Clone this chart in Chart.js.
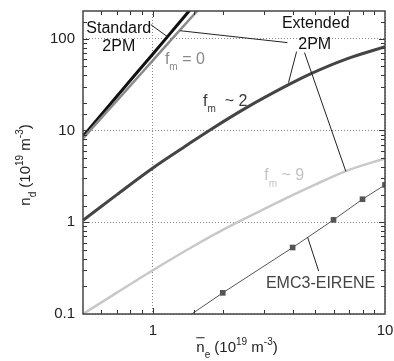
<!DOCTYPE html>
<html>
<head>
<meta charset="utf-8">
<script src="https://cdn.jsdelivr.net/npm/chart.js@4"></script>
<style>html,body{margin:0;padding:0;background:#fff}canvas{display:block}</style>
</head>
<body>
<canvas id="c" width="394" height="361"></canvas>
<script>
'use strict';
// values, n_e and n_d both in 1e19 m^-3
const stdX = [0.5, 0.75, 1, 1.25, 1.5];          // standard 2PM
const stdY = [8.6, 29, 68, 133, 230];
const fm0X = [0.5, 0.75, 1, 1.25, 1.6];          // extended 2PM, f_m = 0
const fm0Y = [8.2, 25.7, 58, 109, 218];
const fm2X = [0.5, 0.7, 1, 1.4, 1.75, 2.5, 3.9, 4.8, 6.8, 10];   // f_m ~ 2
const fm2Y = [1.05, 2.0, 3.9, 6.9, 10, 17.4, 32.1, 41.6, 59.9, 81.5];
const fm9X = [0.5, 0.7, 1, 1.5, 2, 2.5, 3.5, 5, 7, 10];          // f_m ~ 9
const fm9Y = [0.1, 0.171, 0.3, 0.551, 0.824, 1.10, 1.68, 2.57, 3.72, 4.95];
const emcX = [1.47, 2, 4, 6, 8, 10];             // EMC3-EIRENE
const emcY = [0.1, 0.17, 0.53, 1.06, 1.78, 2.55];

const xTickVals = [1, 10];
const xTickLbls = ['1', '10'];
const yTickVals = [0.1, 1, 10, 100];
const yTickLbls = ['0.1', '1', '10', '100'];

const FONT = '"Liberation Sans", Arial, sans-serif';

const xy = (xs, ys) => xs.map((x, i) => ({x, y: ys[i]}));
const isDecade = v => Math.abs(Math.log10(v) - Math.round(Math.log10(v))) < 1e-6;
const tickLbl = (vals, lbls) => v => {
  const i = vals.findIndex(t => Math.abs(t - v) / t < 1e-6);
  return i < 0 ? '' : lbls[i];
};

// ─── rich text: [text, mode] mode 0 normal, 1 sub, 2 sup, 3 overlined ───────────
const richText = (ctx, segs, x, y, size, align, color) => {
  const fnt = m => (m === 1 || m === 2 ? Math.round(size * 0.65) : size) + 'px ' + FONT;
  let w = 0;
  const ws = segs.map(([t, m]) => { ctx.font = fnt(m); const d = ctx.measureText(t).width; w += d; return d; });
  let cx = align === 'center' ? x - w / 2 : x;
  ctx.fillStyle = color; ctx.strokeStyle = color;
  ctx.textAlign = 'left'; ctx.textBaseline = 'alphabetic';
  segs.forEach(([t, m], i) => {
    ctx.font = fnt(m);
    const dy = m === 1 ? size * 0.42 : m === 2 ? -size * 0.45 : 0;
    ctx.fillText(t, cx, y + dy);
    if (m === 3) { ctx.lineWidth = 1; ctx.beginPath(); ctx.moveTo(cx, y - size * 0.95); ctx.lineTo(cx + ws[i], y - size * 0.95); ctx.stroke(); }
    cx += ws[i];
  });
};

// annotations, placed in data coordinates
const notes = [
  {segs: [['Standard', 0]], at: [0.713, 134], align: 'center', color: '#111'},
  {segs: [['2PM', 0]], at: [0.713, 86], align: 'center', color: '#111'},
  {segs: [['Extended', 0]], at: [5.03, 153], align: 'center', color: '#111'},
  {segs: [['2PM', 0]], at: [4.98, 90.5], align: 'center', color: '#111'},
  {segs: [['f', 0], ['m', 1], [' = 0', 0]], at: [1.127, 62], align: 'left', color: '#8a8a8a'},
  {segs: [['f', 0], ['m', 1], ['  ~ 2', 0]], at: [1.646, 21.7], align: 'left', color: '#3a3a3a'},
  {segs: [['f', 0], ['m', 1], [' ~ 9', 0]], at: [3.02, 3.32], align: 'left', color: '#c4c4c4'},
  {segs: [['EMC3-EIRENE', 0]], at: [5.28, 0.223], align: 'center', color: '#444'}
];
const leaders = [
  [[0.98, 142], [1.155, 105]],
  [[3.80, 90.5], [1.31, 122]],
  [[4.16, 72.2], [3.84, 33.2]],
  [[4.5, 70.4], [6.78, 3.58]],
  [[4.64, 0.687], [5.18, 0.293]]
];

// ─── frame, inward ticks, labels ───────────────────────────────────────────────
const frame = {
  id: 'frame',
  afterDatasetsDraw(chart) {
    const {ctx, chartArea: a, scales: {x, y}} = chart;
    ctx.save();
    ctx.strokeStyle = '#333'; ctx.lineWidth = 1;
    ctx.beginPath();
    x.ticks.forEach(t => {
      const px = Math.round(x.getPixelForValue(t.value)) + 0.5;
      if (px <= a.left + 1 || px >= a.right - 1) return;
      const l = isDecade(t.value) ? 6 : 4;
      ctx.moveTo(px, a.bottom); ctx.lineTo(px, a.bottom - l);
      ctx.moveTo(px, a.top); ctx.lineTo(px, a.top + l);
    });
    y.ticks.forEach(t => {
      const py = Math.round(y.getPixelForValue(t.value)) + 0.5;
      if (py <= a.top + 1 || py >= a.bottom - 1) return;
      const l = isDecade(t.value) ? 6 : 4;
      ctx.moveTo(a.left, py); ctx.lineTo(a.left + l, py);
      ctx.moveTo(a.right, py); ctx.lineTo(a.right - l, py);
    });
    ctx.stroke();
    ctx.lineWidth = 1.5; ctx.strokeStyle = '#444';
    ctx.strokeRect(a.left, a.top, a.right - a.left, a.bottom - a.top);

    ctx.lineWidth = 1; ctx.strokeStyle = '#222';
    ctx.beginPath();
    leaders.forEach(([p, q]) => {
      ctx.moveTo(x.getPixelForValue(p[0]), y.getPixelForValue(p[1]));
      ctx.lineTo(x.getPixelForValue(q[0]), y.getPixelForValue(q[1]));
    });
    ctx.stroke();

    notes.forEach(n => {
      const px = x.getPixelForValue(n.at[0]), py = y.getPixelForValue(n.at[1]) + 6;
      richText(ctx, n.segs, px, py, 16, n.align, n.color);
    });

    // axis titles
    richText(ctx, [['n', 3], ['e', 1], [' (10', 0], ['19', 2], [' m', 0], ['-3', 2], [')', 0]],
      (a.left + a.right) / 2 + 3, 352, 15, 'center', '#222');
    ctx.translate(30, 165);
    ctx.rotate(-Math.PI / 2);
    richText(ctx, [['n', 0], ['d', 1], [' (10', 0], ['19', 2], [' m', 0], ['-3', 2], [')', 0]],
      0, 0, 15, 'center', '#222');
    ctx.restore();
  }
};

const axis = (min, max, vals, lbls) => ({
  type: 'logarithmic', min, max,
  border: {display: false, dash: [1, 2]},
  grid: {drawTicks: false, lineWidth: 1, color: c => c.tick && isDecade(c.tick.value) ? '#8c8c8c' : 'rgba(0,0,0,0)'},
  ticks: {autoSkip: false, maxRotation: 0, padding: 8, color: '#222', font: {family: FONT, size: 15}, callback: tickLbl(vals, lbls)}
});

const line = (xs, ys, color, width) => ({
  data: xy(xs, ys), borderColor: color, borderWidth: width, pointRadius: 0,
  cubicInterpolationMode: 'monotone', fill: false
});

// fix the plot box: no extra room for overhanging tick labels
const xAxis = axis(0.5, 10, xTickVals, xTickLbls);
xAxis.afterFit = s => { s.height = 47; s.paddingLeft = 0; s.paddingRight = 0; };
const yAxis = axis(0.1, 200, yTickVals, yTickLbls);
yAxis.afterFit = s => { s.width = 83; s.paddingTop = 0; s.paddingBottom = 0; };

new Chart(document.getElementById('c'), {
  type: 'line',
  data: {datasets: [
    Object.assign(line(emcX, emcY, '#555', 1), {
      pointStyle: 'rect', pointRadius: emcX.map((_, i) => i ? 4 : 0),
      pointBackgroundColor: '#555', pointBorderWidth: 0, cubicInterpolationMode: 'default', tension: 0
    }),
    line(fm9X, fm9Y, '#c8c8c8', 2.5),
    line(fm2X, fm2Y, '#444', 3),
    line(fm0X, fm0Y, '#8a8a8a', 2.5),
    line(stdX, stdY, '#111', 3)
  ]},
  options: {
    responsive: false, animation: false, devicePixelRatio: 1,
    layout: {padding: {top: 11, right: 9, left: 0, bottom: 0}},
    plugins: {legend: {display: false}, tooltip: {enabled: false}},
    scales: {x: xAxis, y: yAxis}
  },
  plugins: [frame]
});
</script>
</body>
</html>
